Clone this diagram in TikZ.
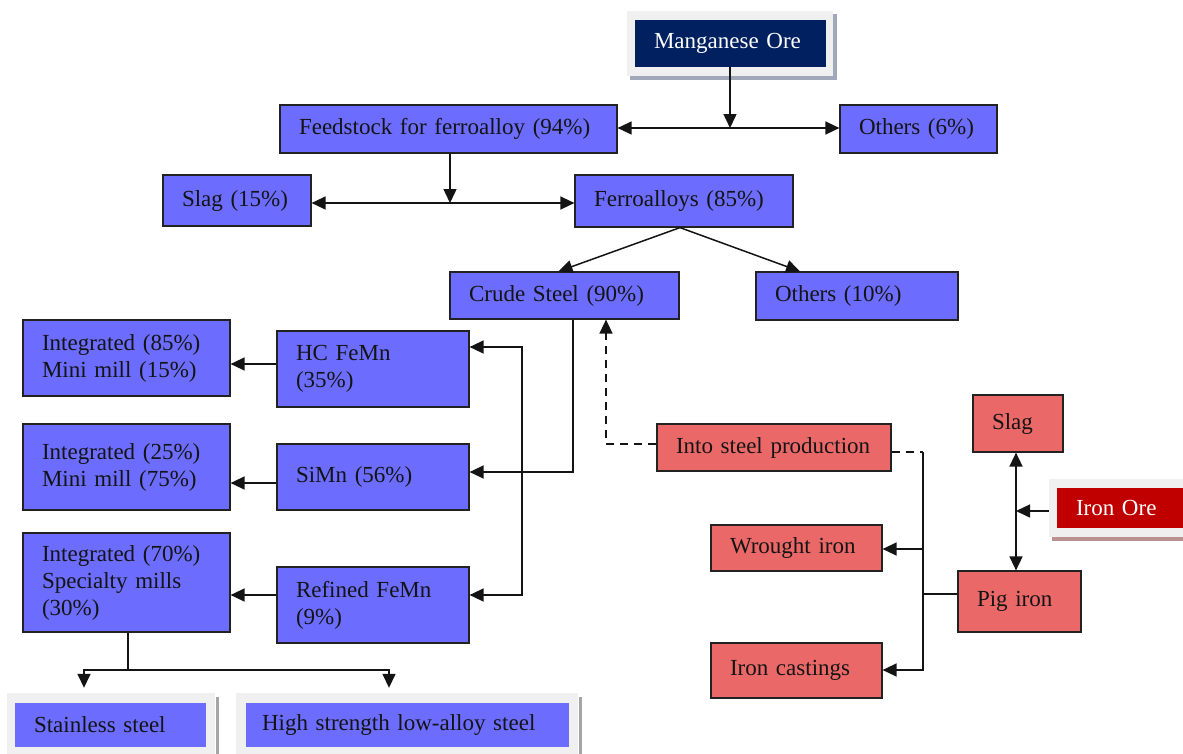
\documentclass[tikz,border=0pt]{standalone}
\usepackage{fontspec}
\setmainfont{Liberation Serif}
\usetikzlibrary{arrows.meta}
\definecolor{boxblue}{RGB}{108,108,255}
\definecolor{boxred}{RGB}{235,104,104}
\definecolor{navy}{RGB}{0,32,96}
\definecolor{orered}{RGB}{192,0,0}
\definecolor{framegrey}{RGB}{240,240,240}
\definecolor{shadowblue}{RGB}{160,168,186}
\definecolor{shadowrose}{RGB}{185,145,145}
\definecolor{shadowgrey}{RGB}{165,165,165}
\definecolor{edge}{RGB}{34,34,34}
\definecolor{ink}{RGB}{20,20,20}

\begin{document}
\begin{tikzpicture}[x=1pt,y=-1pt,
  every node/.style={font=\fontsize{23}{27}\selectfont},
  base/.style={rectangle, inner xsep=19pt, inner ysep=0pt, align=left, text=ink},
  bluebox/.style={base, fill=boxblue, draw=edge, line width=1.2pt},
  plainblue/.style={base, fill=boxblue},
  redbox/.style={base, fill=boxred, draw=edge, line width=1.2pt},
  darkbox/.style={base, text=white},
  frame/.style={rectangle, fill=framegrey, inner sep=0pt},
  line/.style={line width=1.5pt, draw=ink},
  flow/.style={line, -{Triangle[length=14pt,width=13pt]}},
  flowboth/.style={line, {Triangle[length=14pt,width=13pt]}-{Triangle[length=14pt,width=13pt]}},
  dashline/.style={dash pattern=on 8pt off 6pt}
]
\useasboundingbox (0,0) rectangle (1183,753);
\clip (0,0) rectangle (1183,753);

% ---- manganese branch: framed source box ----
\fill[shadowblue] (630,14) rectangle (837,80);
\node[frame, minimum width=206pt, minimum height=65pt] (mnframe) at (730,43.5) {};
\node[darkbox, fill=navy, minimum width=191pt, text width=153pt, minimum height=47pt] (mn) at (730.5,43.5) {Manganese Ore};

\node[bluebox, minimum width=337pt, text width=299pt, minimum height=48pt] (feed) at (448.5,129) {Feedstock for ferroalloy (94\%)};
\node[bluebox, minimum width=157pt, text width=119pt, minimum height=48pt] (oth6) at (918.5,129) {Others (6\%)};
\node[bluebox, minimum width=148pt, text width=110pt, minimum height=51pt] (slag15) at (237,200.5) {Slag (15\%)};
\node[bluebox, minimum width=218pt, text width=180pt, minimum height=52pt] (ferro) at (684,201) {Ferroalloys (85\%)};
\node[bluebox, minimum width=229pt, text width=191pt, minimum height=47pt] (crude) at (564.5,295.5) {Crude Steel (90\%)};
\node[bluebox, minimum width=202pt, text width=164pt, minimum height=48pt] (oth10) at (857,296) {Others (10\%)};

% ---- alloy grades and their consumers ----
\node[bluebox, minimum width=207pt, text width=169pt, minimum height=76pt] (int1) at (126.5,358) {Integrated (85\%)\\Mini mill (15\%)};
\node[bluebox, minimum width=207pt, text width=169pt, minimum height=86pt] (int2) at (126.5,467) {Integrated (25\%)\\Mini mill (75\%)};
\node[bluebox, minimum width=207pt, text width=169pt, minimum height=99pt] (int3) at (126.5,582.5) {Integrated (70\%)\\Specialty mills\\(30\%)};
\node[bluebox, minimum width=192pt, text width=154pt, minimum height=76pt] (hc) at (373,369) {HC FeMn\\(35\%)};
\node[bluebox, minimum width=192pt, text width=154pt, minimum height=66pt] (simn) at (373,477) {SiMn (56\%)};
\node[bluebox, minimum width=192pt, text width=154pt, minimum height=76pt] (ref) at (373,605) {Refined FeMn\\(9\%)};

% ---- end products, framed ----
\fill[shadowgrey] (215.5,697) rectangle (218.5,760);
\node[frame, minimum width=208pt, minimum height=67pt] (stainframe) at (111,726.5) {};
\node[plainblue, minimum width=191pt, text width=153pt, minimum height=44pt] (stain) at (110.5,725) {Stainless steel};
\fill[shadowgrey] (578.5,697) rectangle (581.5,760);
\node[frame, minimum width=342pt, minimum height=67pt] (hslaframe) at (407,726.5) {};
\node[plainblue, inner xsep=16pt, minimum width=323pt, text width=291pt, minimum height=44pt] (hsla) at (407.5,725) {High strength low-alloy steel};

% ---- iron branch ----
\fill[shadowrose] (1052,482) rectangle (1190,541);
\node[frame, minimum width=141pt, minimum height=58pt] (oreframe) at (1119.5,508) {};
\node[darkbox, fill=orered, minimum width=138pt, text width=100pt, minimum height=40pt] (ore) at (1126,508) {Iron Ore};
\node[redbox, minimum width=90pt, text width=52pt, minimum height=57pt] (slagr) at (1018,423.5) {Slag};
\node[redbox, minimum width=123pt, text width=85pt, minimum height=61pt] (pig) at (1019.5,601.5) {Pig iron};
\node[redbox, minimum width=234pt, text width=196pt, minimum height=47pt] (into) at (774,447.5) {Into steel production};
\node[redbox, minimum width=171pt, text width=133pt, minimum height=46pt] (wrought) at (796.5,548) {Wrought iron};
\node[redbox, minimum width=171pt, text width=133pt, minimum height=55pt] (cast) at (796.5,670.5) {Iron castings};

% ---- connectors: manganese chain ----
\coordinate (j1) at (730,128);
\draw[flow] (mn.south -| j1) -- (j1);
\draw[flowboth] (feed.east |- j1) -- (oth6.west |- j1);
\coordinate (j2) at (450,203);
\draw[flow] (feed.south -| j2) -- (j2);
\draw[flowboth] (slag15.east |- j2) -- (ferro.west |- j2);
\draw[flow] ([xshift=-4pt]ferro.south) -- ([xshift=-6pt]crude.north);
\draw[flow] ([xshift=-4pt]ferro.south) -- ([xshift=-57pt]oth10.north);

\coordinate (j3) at (573,472);
\draw[flow] (crude.south -| j3) |- (simn.east |- j3);
\coordinate (b1) at (522,347);
\coordinate (b2) at (522,595);
\draw[flowboth] (hc.east |- b1) -- (b1) -- (b2) -- (ref.east |- b2);

\coordinate (a1) at (250,364);
\coordinate (a2) at (250,483);
\coordinate (a3) at (250,595);
\draw[flow] (hc.west |- a1) -- (int1.east |- a1);
\draw[flow] (simn.west |- a2) -- (int2.east |- a2);
\draw[flow] (ref.west |- a3) -- (int3.east |- a3);

\coordinate (k0) at (128,670);
\coordinate (k1) at (84,670);
\coordinate (k2) at (389,670);
\draw[line] (int3.south -| k0) -- (k0);
\draw[flowboth, shorten <=5pt, shorten >=5pt] (stainframe.north -| k1) -- (k1) -- (k2) -- (hslaframe.north -| k2);

% ---- connectors: iron chain ----
\coordinate (d1) at (606,444);
\draw[flow, dashline] (into.west |- d1) -| (crude.south -| d1);
\coordinate (v1) at (923,452);
\coordinate (v2) at (923,670);
\coordinate (w1) at (923,549);
\coordinate (p1) at (923,594);
\draw[line, dashline] (into.east |- v1) -- (v1);
\draw[flow] (v1) -- (v2) -- (cast.east |- v2);
\draw[flow] (w1) -- (wrought.east |- w1);
\draw[line] (pig.west |- p1) -- (p1);

\coordinate (s1) at (1016,511);
\draw[flowboth] (slagr.south -| s1) -- (pig.north -| s1);
\draw[flow] (oreframe.west |- s1) -- (s1);
\end{tikzpicture}
\end{document}
